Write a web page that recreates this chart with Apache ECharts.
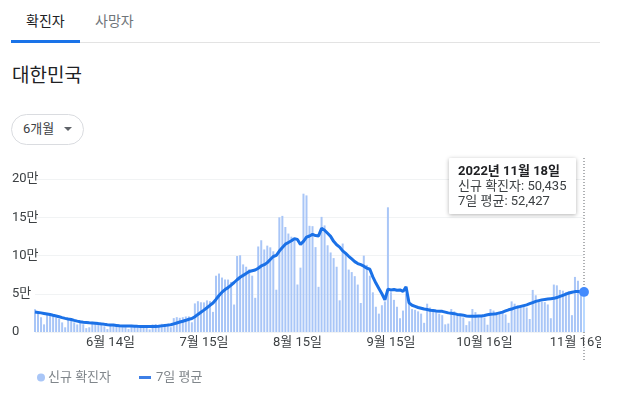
<!DOCTYPE html>
<html>
<head>
<meta charset="utf-8">
<script src="https://cdn.jsdelivr.net/npm/echarts@6/dist/echarts.min.js"></script>
<style>
  body { margin: 0; width: 625px; height: 397px; background: #fff; position: relative; overflow: hidden;
         font-family: Roboto, "Noto Sans CJK KR", sans-serif; }
  .abs { position: absolute; }
  .tab { top: 12px; font-size: 14px; line-height: 18px; }
  #chart { position: absolute; left: 0; top: 150px; width: 601px; height: 247px; }
  .arrow { width: 0; height: 0; border-left: 4px solid transparent; border-right: 4px solid transparent;
           border-top: 4px solid #5f6368; }
</style>
</head>
<body>
<div class="abs tab" style="left:26px;color:#202124">확진자</div>
<div class="abs tab" style="left:95px;color:#70757a">사망자</div>
<div class="abs" style="left:11px;top:42px;width:589px;height:1px;background:#e3e3e3"></div>
<div class="abs" style="left:11px;top:40px;width:69px;height:3px;background:#1a73e8"></div>
<div class="abs" style="left:12px;top:64px;font-size:19px;line-height:24px;color:#202124">대한민국</div>
<div class="abs" style="left:11px;top:114px;width:71px;height:29px;border:1px solid #dadce0;border-radius:16px"></div>
<div class="abs" style="left:23px;top:121px;font-size:13px;line-height:16px;color:#3c4043">6개월</div>
<div class="abs arrow" style="left:64px;top:127px"></div>
<div id="chart"></div>
<script>
// 2022-05-20 부터 하루 단위
const startDate = "2022-05-20";

// 신규 확진자 (일별)
const cases = [
  29581, 25125, 19293, 9975, 23956, 23946, 21411,
  18816, 17191, 12542, 6145, 16584, 15797, 12537,
  9891, 12045, 10059, 5022, 6171, 13358, 12165,
  10602, 8703, 7377, 3825, 9435, 10014, 7994,
  7497, 6068, 6253, 3828, 9306, 9292, 7493,
  7228, 6789, 6239, 3423, 9894, 10455, 9528,
  10715, 10059, 10054, 6254, 18147, 19371, 18511,
  19323, 20286, 20410, 12693, 37360, 40266, 38882,
  38691, 41310, 40342, 26299, 73582, 76402, 71170,
  68632, 68551, 65433, 35883, 99327, 100285, 88384,
  85285, 82002, 73589, 44689, 111789, 119922, 107894,
  112901, 110666, 105507, 55292, 149897, 151792, 137241,
  128714, 124592, 119603, 62078, 84128, 180803, 178574,
  138812, 138337, 110961, 59046, 150474, 139339, 113371,
  103961, 96597, 85295, 41408, 115618, 103961, 81573,
  78317, 73008, 62000, 37909, 99837, 87751, 73554,
  51874, 33000, 24000, 35000, 40000, 163000, 52000,
  42000, 33000, 18000, 28000, 50000, 40000, 30000,
  29000, 27000, 24000, 12000, 37000, 32000, 29000,
  26000, 24000, 22000, 10000, 11000, 30000, 27000,
  23000, 21000, 19000, 9000, 14000, 30000, 26000,
  22000, 21000, 19000, 9500, 30000, 28000, 26000,
  26000, 27000, 23000, 12000, 40000, 37000, 35000,
  33000, 35000, 32000, 17000, 55000, 48000, 41000,
  40000, 39000, 36000, 18000, 62000, 61000, 55000,
  54000, 52000, 53000, 22000, 72000, 67000, 55000,
  50435
];

// 7일 평균
const avg7 = [
  26000, 25500, 25000, 24300, 23600, 22800, 21800,
  20900, 19900, 18800, 17800, 17000, 16300, 15200,
  14200, 13400, 12800, 12400, 12000, 11800, 11500,
  11000, 10600, 10000, 9500, 9200, 9000, 8600,
  8200, 8000, 7900, 7800, 7700, 7600, 7400,
  7300, 7300, 7200, 7100, 7200, 7300, 7500,
  8000, 8500, 9000, 9400, 10600, 11800, 13000,
  14000, 15300, 16700, 17600, 20000, 23000, 25800,
  28600, 31700, 34900, 37900, 42600, 47700, 52000,
  55500, 58000, 61300, 64700, 68300, 71600, 74000,
  76500, 79000, 80000, 81000, 83400, 86300, 88000,
  90700, 94800, 98700, 100300, 105800, 110400, 114800,
  117000, 119200, 122000, 121000, 114500, 118500, 124000,
  125500, 127500, 126000, 125600, 135500, 133000, 129000,
  125000, 118500, 114000, 111000, 106000, 102800, 99000,
  95500, 92000, 89500, 88000, 86000, 83500, 82000,
  72000, 64000, 57000, 50000, 42000, 56000, 55000,
  55500, 54500, 55000, 53000, 59000, 38000, 35000,
  33500, 32000, 31000, 30000, 29500, 28500, 28000,
  27500, 27200, 27000, 26000, 25000, 24500, 24000,
  23000, 22500, 22000, 21000, 20500, 20500, 20500,
  21000, 21000, 21500, 22500, 23300, 23500, 24000,
  25000, 26000, 27500, 29000, 30000, 31500, 32500,
  33500, 34500, 35500, 37000, 38500, 40000, 41000,
  42000, 42500, 43000, 43500, 44000, 45000, 46500,
  48000, 49500, 51000, 52000, 52800, 53000, 52600,
  52427
];

const tickDates = ["2022-06-14", "2022-07-15", "2022-08-15", "2022-09-15", "2022-10-16", "2022-11-16"];
const tickLabels = ["6월 14일", "7월 15일", "8월 15일", "9월 15일", "10월 16일", "11월 16일"];
const yTicks = [0, 50000, 100000, 150000, 200000];

// 날짜 카테고리
const dates = [];
const d0 = new Date(startDate + "T00:00:00Z");
for (let i = 0; i < cases.length; i++) {
  const d = new Date(d0.getTime() + i * 86400000);
  dates.push(d.toISOString().slice(0, 10));
}
const lastIdx = dates.length - 1;

const fmtDate = (s) => {
  const [y, m, d] = s.split("-");
  return `${y}년 ${+m}월 ${+d}일`;
};

const font = 'Roboto, "Noto Sans CJK KR", sans-serif';
const chart = echarts.init(document.getElementById("chart"));

const option = {
  animation: false,
  textStyle: { fontFamily: font },
  grid: { left: 35, right: 17, top: 29, height: 153, outerBoundsMode: "none" },
  xAxis: {
    type: "category",
    data: dates,
    boundaryGap: false,
    axisLine: { show: false },
    axisTick: { show: false },
    axisLabel: {
      margin: 4,
      color: "#3c4043",
      fontSize: 13,
      interval: (i, v) => tickDates.includes(v),
      formatter: (v) => tickLabels[tickDates.indexOf(v)],
    },
  },
  yAxis: {
    type: "value",
    min: yTicks[0],
    max: yTicks[yTicks.length - 1],
    interval: yTicks[1] - yTicks[0],
    axisLine: { show: false },
    axisTick: { show: false },
    splitLine: { lineStyle: { color: "#f1f3f4", width: 1 } },
    axisLabel: {
      align: "left",
      margin: 23,
      color: "#3c4043",
      fontSize: 13,
      formatter: (v) => (v === 0 ? "0" : v / 10000 + "만"),
    },
  },
  legend: [
    {
      data: [{ name: "신규 확진자", icon: "circle" }],
      left: 32, top: 216,
      itemWidth: 8, itemHeight: 8, itemGap: 10,
      textStyle: { color: "#80868b", fontSize: 13, padding: [0, 0, 0, -2] },
    },
    {
      data: [{ name: "7일 평균", icon: "rect" }],
      left: 134, top: 216,
      itemWidth: 12, itemHeight: 3,
      textStyle: { color: "#80868b", fontSize: 13 },
    },
  ],
  tooltip: {
    trigger: "axis",
    triggerOn: "none",
    alwaysShowContent: true,
    axisPointer: { type: "none" },
    transitionDuration: 0,
    position: [449, 8],
    backgroundColor: "#fff",
    borderWidth: 0,
    padding: [5, 9, 6, 9],
    extraCssText: "border-radius:1px;box-shadow:0 1px 4px rgba(0,0,0,0.3);line-height:15px;",
    textStyle: { fontFamily: font, fontSize: 13, color: "#3c4043" },
    formatter: (params) => {
      const i = params[0].dataIndex;
      return `<b style="color:#202124">${fmtDate(dates[i])}</b><br>` +
        `신규 확진자: ${cases[i].toLocaleString("en-US")}<br>` +
        `7일 평균: ${avg7[i].toLocaleString("en-US")}`;
    },
  },
  series: [
    {
      name: "신규 확진자",
      type: "bar",
      data: cases,
      barWidth: 2,
      itemStyle: { color: "#a9c6f7" },
    },
    {
      name: "7일 평균",
      type: "line",
      data: avg7.map((v, i) => (i === lastIdx ? { value: v, symbol: "circle", symbolSize: 9 } : v)),
      showSymbol: true,
      showAllSymbol: true,
      symbol: "none",
      lineStyle: { color: "#1967d2", width: 3 },
      itemStyle: { color: "#3d7fe6" },
      z: 3,
    },
  ],
};

chart.setOption(option);

// 마지막 날짜의 점선 (툴팁 아래로)
const px = chart.convertToPixel({ xAxisIndex: 0 }, dates[lastIdx]);
chart.setOption({
  graphic: [{
    type: "line",
    shape: { x1: px, y1: 8, x2: px, y2: 210 },
    style: { stroke: "#5f6368", lineWidth: 1, lineDash: [1, 2] },
    z: 1,
  }],
});

chart.dispatchAction({ type: "showTip", seriesIndex: 1, dataIndex: lastIdx });

window.addEventListener("resize", () => chart.resize());
</script>
</body>
</html>
